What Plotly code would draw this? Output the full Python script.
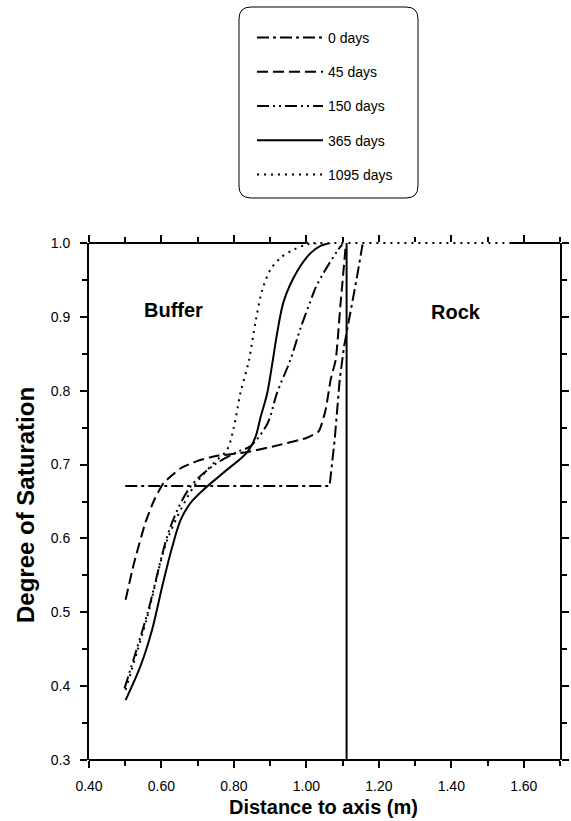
import plotly.graph_objects as go

# ---------------- data ----------------
series_names = ["0 days", "45 days", "150 days", "365 days", "1095 days"]

x_0d = [0.500, 1.064, 1.078, 1.092, 1.104, 1.126, 1.140, 1.155]
y_0d = [0.671, 0.671, 0.733, 0.815, 0.860, 0.916, 0.955, 0.998]

x_45d = [0.501, 0.524, 0.556, 0.580, 0.606, 0.653, 0.700, 0.744, 0.837, 0.929, 1.000,
         1.034, 1.053, 1.067, 1.081, 1.094, 1.108]
y_45d = [0.517, 0.566, 0.622, 0.652, 0.675, 0.695, 0.705, 0.711, 0.717, 0.727, 0.736,
         0.745, 0.774, 0.815, 0.842, 0.916, 0.993]

x_150d = [0.498, 0.561, 0.625, 0.680, 0.744, 0.809, 0.846, 0.892, 0.919, 0.956,
          0.984, 1.011, 1.025, 1.048, 1.085, 1.099]
y_150d = [0.397, 0.498, 0.616, 0.670, 0.699, 0.717, 0.725, 0.755, 0.797, 0.842,
          0.885, 0.921, 0.939, 0.960, 0.989, 0.998]

x_365d = [0.501, 0.542, 0.574, 0.602, 0.630, 0.653, 0.680, 0.716, 0.771, 0.837,
          0.860, 0.873, 0.892, 0.906, 0.920, 0.938, 0.975, 1.011, 1.039, 1.066]
y_365d = [0.381, 0.427, 0.476, 0.535, 0.589, 0.625, 0.648, 0.666, 0.689, 0.717,
          0.738, 0.763, 0.797, 0.837, 0.880, 0.922, 0.962, 0.986, 0.996, 1.000]

x_1095d = [0.501, 0.561, 0.616, 0.689, 0.744, 0.781, 0.800, 0.818, 0.841,
           0.860, 0.878, 0.901, 0.929, 0.965, 1.002, 1.040]
y_1095d = [0.395, 0.494, 0.598, 0.670, 0.702, 0.720, 0.751, 0.797, 0.840,
           0.894, 0.936, 0.964, 0.980, 0.991, 0.998, 1.000]

interface_x = 1.111          # buffer / rock boundary
region_labels = ["Buffer", "Rock"]
region_x = [0.634, 1.414]
region_y = [0.909, 0.906]

top_edge_dotted = [1.00, 1.56]   # stretch of top frame shown dotted

x_range = [0.40, 1.70]
y_range = [0.30, 1.00]
x_tickvals = [0.40, 0.60, 0.80, 1.00, 1.20, 1.40, 1.60]
y_tickvals = [0.3, 0.4, 0.5, 0.6, 0.7, 0.8, 0.9, 1.0]

# ---------------- layout helpers ----------------
W, H = 571, 821
ML, MR, MT, MB = 89, 11, 243, 61
PW, PH = W - ML - MR, H - MT - MB


def px_x(px):
    return (px - ML) / PW


def px_y(py):
    return (H - MB - py) / PH


def dx(v):
    return (v - x_range[0]) / (x_range[1] - x_range[0])


FONT = "Arial, Liberation Sans, sans-serif"
LW = 2

styles = [
    "12px,4px,3px,4px",
    "11px,5px",
    "12px,4px,2px,4px,2px,4px",
    "solid",
    "2px,5px",
]
shapes_kind = ["linear", "spline", "spline", "spline", "spline"]
smooth = [0, 0.5, 0.9, 0.9, 0.9]
xs = [x_0d, x_45d, x_150d, x_365d, x_1095d]
ys = [y_0d, y_45d, y_150d, y_365d, y_1095d]

fig = go.Figure()
for i, (name, xv, yv, dash) in enumerate(zip(series_names, xs, ys, styles)):
    line = dict(color="black", width=LW, dash=dash, shape=shapes_kind[i])
    if shapes_kind[i] == "spline":
        line["smoothing"] = smooth[i]
    fig.add_trace(go.Scatter(
        x=xv, y=yv, mode="lines", name=name, legendgroup=f"g{i}", line=line,
    ))

fig.add_trace(go.Scatter(
    x=[interface_x, interface_x], y=y_range, mode="lines", showlegend=False,
    line=dict(color="black", width=LW), hoverinfo="skip",
))

# frame lines (top edge partly dotted)
shapes = [
    dict(type="line", xref="paper", yref="paper", x0=0, x1=1, y0=0, y1=0,
         line=dict(color="black", width=LW)),
    dict(type="line", xref="paper", yref="paper", x0=0, x1=dx(top_edge_dotted[0]), y0=1, y1=1,
         line=dict(color="black", width=LW)),
    dict(type="line", xref="paper", yref="paper", x0=dx(top_edge_dotted[0]),
         x1=dx(top_edge_dotted[1]), y0=1, y1=1,
         line=dict(color="black", width=LW, dash="2px,5px")),
    dict(type="line", xref="paper", yref="paper", x0=dx(top_edge_dotted[1]), x1=1, y0=1, y1=1,
         line=dict(color="black", width=LW)),
]

# rounded legend box
bx0, bx1, by0, by1, r = 239, 418, 7, 198, 12
path = (
    f"M {px_x(bx0 + r)},{px_y(by0)} L {px_x(bx1 - r)},{px_y(by0)} "
    f"Q {px_x(bx1)},{px_y(by0)} {px_x(bx1)},{px_y(by0 + r)} "
    f"L {px_x(bx1)},{px_y(by1 - r)} "
    f"Q {px_x(bx1)},{px_y(by1)} {px_x(bx1 - r)},{px_y(by1)} "
    f"L {px_x(bx0 + r)},{px_y(by1)} "
    f"Q {px_x(bx0)},{px_y(by1)} {px_x(bx0)},{px_y(by1 - r)} "
    f"L {px_x(bx0)},{px_y(by0 + r)} "
    f"Q {px_x(bx0)},{px_y(by0)} {px_x(bx0 + r)},{px_y(by0)} Z"
)
shapes.append(dict(type="path", xref="paper", yref="paper", path=path,
                   line=dict(color="black", width=1)))

annotations = [
    dict(x=xv, y=yv, xref="x", yref="y", text=f"<b>{t}</b>", showarrow=False,
         xanchor="center", yanchor="middle",
         font=dict(family=FONT, size=20, color="black"))
    for t, xv, yv in zip(region_labels, region_x, region_y)
]
annotations.append(dict(x=px_x(323), y=px_y(807), xref="paper", yref="paper",
                        xanchor="center", yanchor="middle",
                        text="<b>Distance to axis (m)</b>", showarrow=False,
                        font=dict(family=FONT, size=20, color="black")))
annotations.append(dict(x=px_x(25), y=px_y(505), xref="paper", yref="paper",
                        xanchor="center", yanchor="middle",
                        text="<b>Degree of Saturation</b>", showarrow=False, textangle=-90,
                        font=dict(family=FONT, size=24, color="black")))

fig.update_layout(
    width=W, height=H,
    margin=dict(l=ML, r=MR, t=MT, b=MB, pad=0, autoexpand=False),
    paper_bgcolor="white", plot_bgcolor="white",
    showlegend=True,
    legend=dict(
        x=px_x(252), y=px_y(22), xanchor="left", yanchor="top",
        bgcolor="rgba(0,0,0,0)", borderwidth=0,
        font=dict(family=FONT, size=14, color="black"),
        tracegroupgap=13, itemwidth=66,
    ),
    shapes=shapes,
    annotations=annotations,
)

fig.update_xaxes(
    range=x_range, showgrid=False, zeroline=False,
    showline=False, mirror="ticks",
    ticks="outside", ticklen=7, tickwidth=2, tickcolor="black",
    tickvals=x_tickvals, ticktext=[f"{v:.2f}" for v in x_tickvals],
    tickfont=dict(family=FONT, size=14, color="black"),
    ticklabelstandoff=6,
    minor=dict(dtick=0.1, tick0=0.4, ticks="outside", ticklen=5, tickwidth=2, tickcolor="black"),
)
fig.update_yaxes(
    range=y_range, showgrid=False, zeroline=False,
    showline=True, linewidth=LW, linecolor="black", mirror="ticks",
    ticks="outside", ticklen=7, tickwidth=2, tickcolor="black",
    tickvals=y_tickvals, ticktext=[f"{v:.1f}" for v in y_tickvals],
    tickfont=dict(family=FONT, size=14, color="black"),
    ticklabelstandoff=7,
    minor=dict(dtick=0.05, tick0=0.3, ticks="outside", ticklen=5, tickwidth=2, tickcolor="black"),
)

fig.write_html("out.html")
